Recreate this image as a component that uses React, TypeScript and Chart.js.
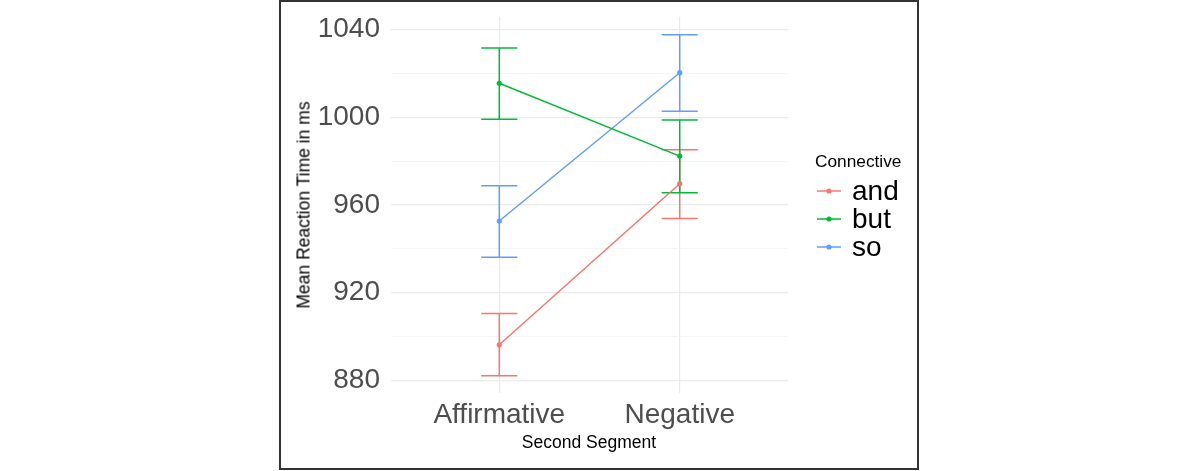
import { Chart, registerables } from "chart.js"
import { useEffect, useRef } from "react"

Chart.register(...registerables)

const CATEGORIES = ["Affirmative", "Negative"]
const SERIES = ["and", "but", "so"]
const COLORS = ["#F8766D", "#00BA38", "#619CFF"]

const AND_MEAN = [896.3, 969.7]
const AND_LOW = [882.2, 953.9]
const AND_HIGH = [910.5, 985.2]
const BUT_MEAN = [1015.5, 982.3]
const BUT_LOW = [999.1, 965.6]
const BUT_HIGH = [1031.6, 998.7]
const SO_MEAN = [952.7, 1020.3]
const SO_LOW = [936.2, 1002.7]
const SO_HIGH = [968.8, 1037.6]

const Y_TICKS = [880, 900, 920, 940, 960, 980, 1000, 1020, 1040]

const MEANS = [AND_MEAN, BUT_MEAN, SO_MEAN]
const LOWS = [AND_LOW, BUT_LOW, SO_LOW]
const HIGHS = [AND_HIGH, BUT_HIGH, SO_HIGH]

const FONT = "'Liberation Sans', Arial, sans-serif"

// draws the error bars from the low/high arrays using the chart scales
const errorBars = {
	id: "errorBars",
	beforeDatasetsDraw(chart: any) {
		const { ctx, scales } = chart
		const xs = scales.x
		const ys = scales.y
		ctx.save()
		ctx.lineWidth = 1.5
		MEANS.forEach((_, s) => {
			ctx.strokeStyle = COLORS[s]
			CATEGORIES.forEach((_c, i) => {
				const x = xs.getPixelForValue(i)
				const xl = xs.getPixelForValue(i - 0.1)
				const xr = xs.getPixelForValue(i + 0.1)
				const yl = ys.getPixelForValue(LOWS[s][i])
				const yh = ys.getPixelForValue(HIGHS[s][i])
				ctx.beginPath()
				ctx.moveTo(x, yl)
				ctx.lineTo(x, yh)
				ctx.moveTo(xl, yl)
				ctx.lineTo(xr, yl)
				ctx.moveTo(xl, yh)
				ctx.lineTo(xr, yh)
				ctx.stroke()
			})
		})
		ctx.restore()
	},
}

function LegendKey({ color }: { color: string }) {
	return (
		<svg width={26} height={10} style={{ marginRight: 10 }}>
			<line x1={1} y1={5} x2={25} y2={5} stroke={color} strokeWidth={1.5} />
			<circle cx={13} cy={5} r={2.6} fill={color} />
		</svg>
	)
}

export default function App() {
	const canvasRef = useRef<HTMLCanvasElement>(null)
	const chartRef = useRef<Chart | null>(null)

	useEffect(() => {
		if (!canvasRef.current) return

		const datasets = SERIES.map((name, s) => ({
			label: name,
			data: MEANS[s].map((v, i) => ({ x: i, y: v })),
			borderColor: COLORS[s],
			backgroundColor: COLORS[s],
			borderWidth: 1.5,
			pointRadius: 2.6,
			pointBorderWidth: 0,
			showLine: true,
			fill: false,
		}))

		chartRef.current = new Chart(canvasRef.current, {
			type: "scatter",
			data: { datasets },
			plugins: [errorBars],
			options: {
				animation: false,
				responsive: true,
				maintainAspectRatio: false,
				layout: { padding: { left: 0, right: 412, top: 17, bottom: 0 } },
				plugins: { legend: { display: false }, tooltip: { enabled: false } },
				scales: {
					x: {
						type: "linear",
						min: -0.6,
						max: 1.6,
						afterBuildTicks: (scale: any) => {
							scale.ticks = CATEGORIES.map((_, i) => ({ value: i }))
						},
						afterFit: (scale: any) => {
							scale.height = 78
							scale.paddingLeft = 0
							scale.paddingRight = 0
						},
						ticks: {
							callback: (v: any) => CATEGORIES[v] ?? "",
							font: { family: FONT, size: 28 },
							color: "#4D4D4D",
							padding: 5,
							maxRotation: 0,
						},
						grid: { color: "#EBEBEB", lineWidth: 1.2, drawTicks: false },
						border: { display: false },
					},
					y: {
						min: 874.3,
						max: 1045.7,
						afterBuildTicks: (scale: any) => {
							scale.ticks = Y_TICKS.map((v) => ({ value: v }))
						},
						afterFit: (scale: any) => {
							scale.width = 391
							scale.paddingTop = 0
							scale.paddingBottom = 0
						},
						ticks: {
							callback: (v: any) => (v % 40 === 0 ? String(v) : ""),
							font: { family: FONT, size: 28 },
							color: "#4D4D4D",
							padding: 11,
						},
						grid: {
							color: (c: any) => (c.tick && c.tick.value % 40 === 0 ? "#EBEBEB" : "#F3F3F3"),
							lineWidth: (c: any) => (c.tick && c.tick.value % 40 === 0 ? 1.2 : 0.8),
							drawTicks: false,
						},
						border: { display: false },
					},
				},
			},
		})

		return () => {
			chartRef.current?.destroy()
		}
	}, [])

	return (
		<div
			style={{
				position: "fixed",
				left: 0,
				top: 0,
				width: 1200,
				height: 471,
				background: "#fff",
				fontFamily: FONT,
			}}
		>
			<div
				style={{
					position: "absolute",
					left: 279,
					top: 0,
					width: 636,
					height: 466,
					border: "2px solid #333",
				}}
			/>
			<div style={{ position: "absolute", left: 0, top: 0, width: 1200, height: 471 }}>
				<canvas ref={canvasRef} />
			</div>
			<div
				style={{
					position: "absolute",
					left: 304,
					top: 205,
					transform: "translate(-50%, -50%) rotate(-90deg)",
					fontSize: 17.5,
					color: "#000",
					whiteSpace: "nowrap",
				}}
			>
				Mean Reaction Time in ms
			</div>
			<div
				style={{
					position: "absolute",
					left: 589,
					top: 442,
					transform: "translate(-50%, -50%)",
					fontSize: 17.5,
					color: "#000",
					whiteSpace: "nowrap",
				}}
			>
				Second Segment
			</div>
			<div style={{ position: "absolute", left: 815, top: 150, color: "#000" }}>
				<div style={{ fontSize: 17.3, lineHeight: "22px", marginBottom: 5 }}>Connective</div>
				{SERIES.map((name, s) => (
					<div
						key={name}
						style={{ display: "flex", alignItems: "center", height: 28, fontSize: 28, marginLeft: 1 }}
					>
						<LegendKey color={COLORS[s]} />
						<span style={{ lineHeight: "28px" }}>{name}</span>
					</div>
				))}
			</div>
		</div>
	)
}
